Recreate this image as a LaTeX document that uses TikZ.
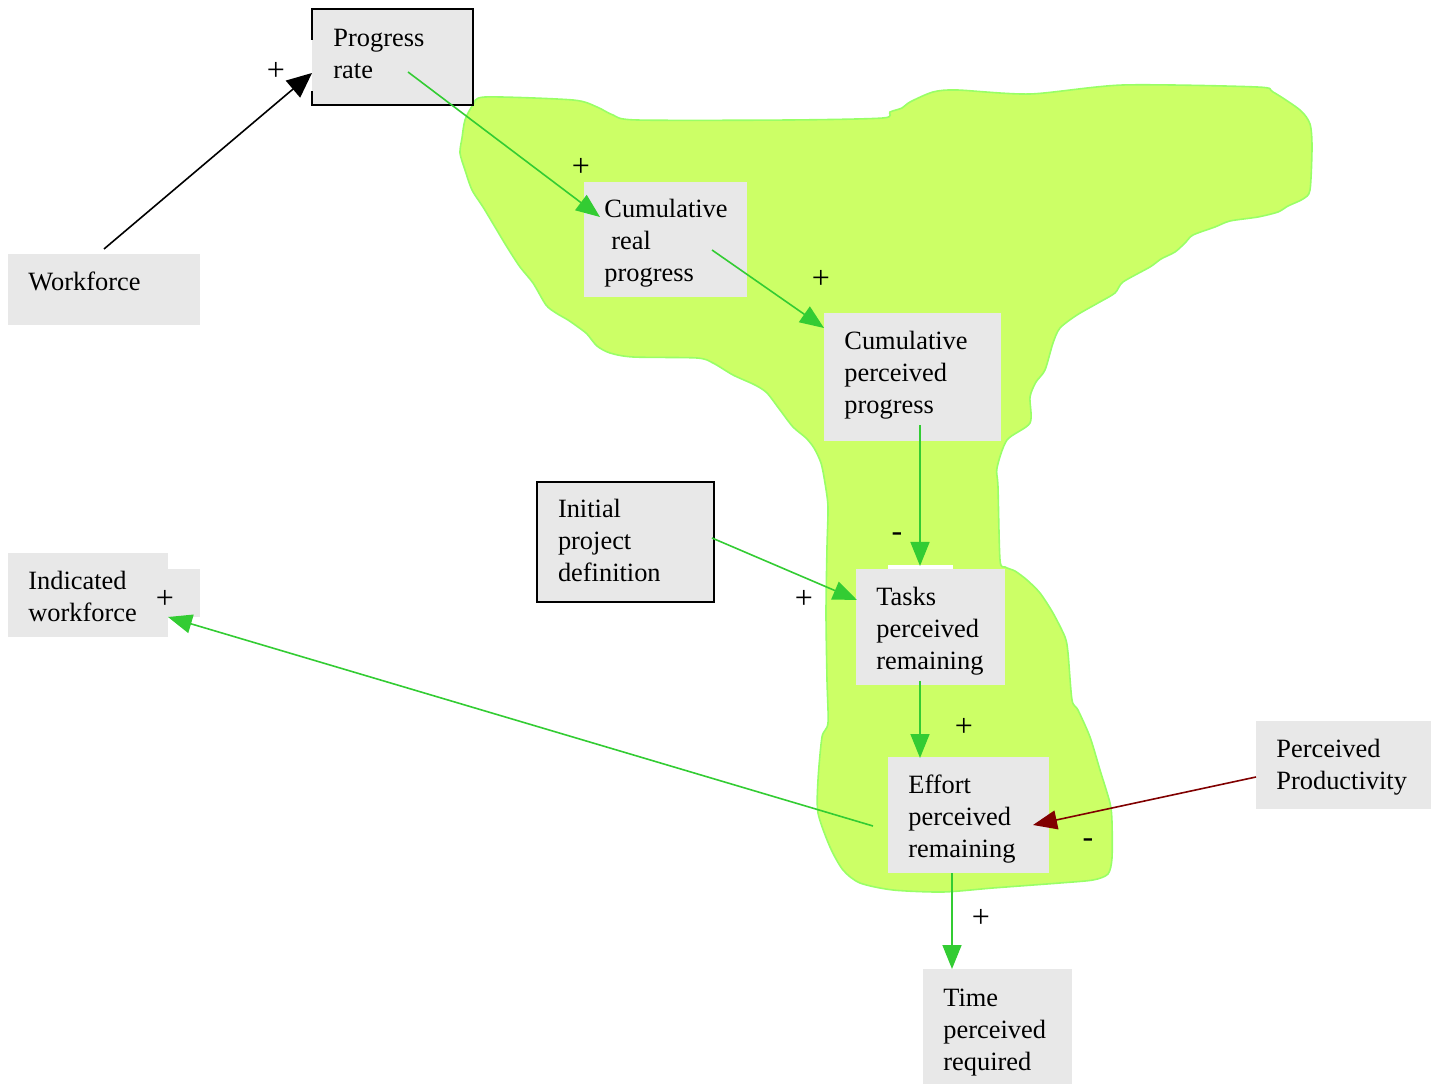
\documentclass[tikz,border=0pt]{standalone}
\usepackage{fontspec}
\setmainfont{Liberation Serif}
\usetikzlibrary{arrows.meta}
\definecolor{blobfill}{RGB}{204,255,102}
\definecolor{blobline}{RGB}{153,255,102}
\definecolor{boxgrey}{RGB}{232,232,232}
\definecolor{linkgreen}{RGB}{51,204,51}
\definecolor{linkred}{RGB}{128,0,0}
\begin{document}
\begin{tikzpicture}[x=0.5pt,y=-0.5pt,
  font=\fontsize{13.2}{16}\selectfont,
  var/.style={fill=boxgrey, anchor=north west, inner xsep=10pt, inner ysep=0pt, align=left},
  lift/.style={text height=9pt+#1pt},
  framed/.style={draw=black, line width=1pt},
  link/.style={draw=linkgreen, line width=0.8pt, -{Triangle[length=12pt,width=9.5pt]}},
  blacklink/.style={draw=black, line width=0.8pt, -{Triangle[length=12.5pt,width=11pt]}},
  redlink/.style={draw=linkred, line width=0.8pt, -{Triangle[length=12pt,width=9.5pt]}},
  sign/.style={inner sep=0pt, font=\fontsize{16}{18}\selectfont}]

\useasboundingbox (0,0) rectangle (1431,1085);

% highlighted region behind the perceived-progress chain
\draw[fill=blobfill, draw=blobline, line width=0.8pt]
  plot[smooth cycle, tension=0.45] coordinates {
  (485,97) (573,100) (597,107) (613,115) (637,120) (790,120) (883,118) (890,112)
  (902,108) (910,102) (933,92) (957,90) (1030,94) (1123,85) (1257,87) (1273,92)
  (1300,110) (1310,124) (1312,147) (1310,190) (1303,199) (1288,206) (1278,212)
  (1258,217) (1230,221) (1215,227) (1193,235) (1185,243) (1175,252) (1161,259)
  (1150,267) (1123,282) (1115,293) (1098,303) (1077,315) (1060,328) (1053,343)
  (1045,370) (1036,382) (1030,397) (1030,423) (1007,440) (997,468) (998,487)
  (1000,560) (1005,567) (1015,571) (1027,580) (1040,593) (1053,613) (1065,637)
  (1068,653) (1072,700) (1078,710) (1090,737) (1100,770) (1110,803) (1112,822)
  (1112,858) (1108,874) (1093,880) (1060,883) (993,888) (943,892) (893,890)
  (860,883) (843,870) (830,847) (818,813) (818,780) (822,737) (828,723)
  (827,680) (826,613) (827,547) (828,507) (825,483) (821,463) (814,448)
  (806,438) (793,427) (780,410) (767,393) (755,385) (733,375) (713,363)
  (697,358) (633,357) (610,353) (597,346) (587,334) (578,327) (568,320)
  (556,313) (546,305) (533,283) (520,267) (507,247) (495,227) (483,207)
  (472,190) (465,170) (460,153) (462,138) (465,120) (473,105)};
\fill[white] (888,565) rectangle (953,569);

% variables
\node[var, lift=-3, minimum width=80pt, minimum height=47.5pt, text width=59pt, inner xsep=10.5pt]
  (prate) at (312,9) {Progress\\rate};
\draw[framed] ([yshift=-15.5pt]prate.north west) -- (prate.north west) -- (prate.north east)
  -- (prate.south east) -- (prate.south west) -- ([yshift=7pt]prate.south west);
\node[var, lift=-8, minimum width=96pt, minimum height=35.5pt, text width=76pt]
  (workforce) at (8,254) {Workforce};
\node[var, lift=3, minimum width=81.5pt, minimum height=57.5pt, text width=61.5pt]
  (creal) at (584,182) {Cumulative\\\hspace{3.5pt}real\\progress};
\node[var, lift=-2, minimum width=88.5pt, minimum height=64pt, text width=68.5pt]
  (cperc) at (824,313) {Cumulative\\perceived\\progress};
\node[var, lift=-1, framed, minimum width=88pt, minimum height=60pt, text width=67.5pt, inner xsep=10.5pt]
  (initdef) at (536,481) {Initial\\project\\definition};
\fill[boxgrey] (130,569) rectangle (200,617);
\node[var, lift=1, minimum width=80pt, minimum height=42pt, text width=60pt]
  (indwf) at (8,553) {Indicated\\workforce};
\node[var, lift=4, minimum width=74.5pt, minimum height=58pt, text width=54.5pt]
  (tasks) at (856,569) {Tasks\\perceived\\remaining};
\node[var, lift=4, minimum width=80.5pt, minimum height=58pt, text width=60.5pt]
  (effort) at (888,757) {Effort\\perceived\\remaining};
\node[var, lift=2, minimum width=87.5pt, minimum height=44pt, text width=67.5pt]
  (prod) at (1256,721) {Perceived\\Productivity};
\node[var, lift=5, minimum width=74.5pt, minimum height=57.5pt, text width=54.5pt]
  (timereq) at (923,969) {Time\\perceived\\required};

% connector end points
\coordinate (wf-out) at (104,249);
\coordinate (pr-in) at (312,73);
\coordinate (pr-out) at (408,72);
\coordinate (cr-in) at (600,217);
\coordinate (cr-out) at (712,250);
\coordinate (cp-in) at (824,328);
\coordinate (cp-out) at (920,425);
\coordinate (tk-in) at (920,566);
\coordinate (id-out) at (712,538);
\coordinate (tk-in2) at (857,600);
\coordinate (tk-out) at (920,681);
\coordinate (ef-in) at (920,758);
\coordinate (ef-out) at (873,826);
\coordinate (iw-in) at (168,617);
\coordinate (pp-out) at (1256,777);
\coordinate (ef-in2) at (1033,825);
\coordinate (ef-out2) at (952,873);
\coordinate (tr-in) at (952,969);

% causal links
\draw[blacklink] (wf-out) -- (pr-in);
\draw[link] (pr-out) -- (cr-in);
\draw[link] (cr-out) -- (cp-in);
\draw[link] (cp-out) -- (tk-in);
\draw[link] (id-out) -- (tk-in2);
\draw[link] (tk-out) -- (ef-in);
\draw[link] (ef-out) -- (iw-in);
\draw[redlink] (pp-out) -- (ef-in2);
\draw[link] (ef-out2) -- (tr-in);

% polarity signs
\node[sign] (s1) at (276,71) {+};
\node[sign] (s2) at (581,167) {+};
\node[sign] (s3) at (821,279) {+};
\node[sign] (s4) at (897,537) {-};
\node[sign] (s5) at (804,599) {+};
\node[sign] (s6) at (964,727) {+};
\node[sign] (s7) at (165,599) {+};
\node[sign] (s8) at (1088,843) {-};
\node[sign] (s9) at (981,918) {+};
\end{tikzpicture}
\end{document}
